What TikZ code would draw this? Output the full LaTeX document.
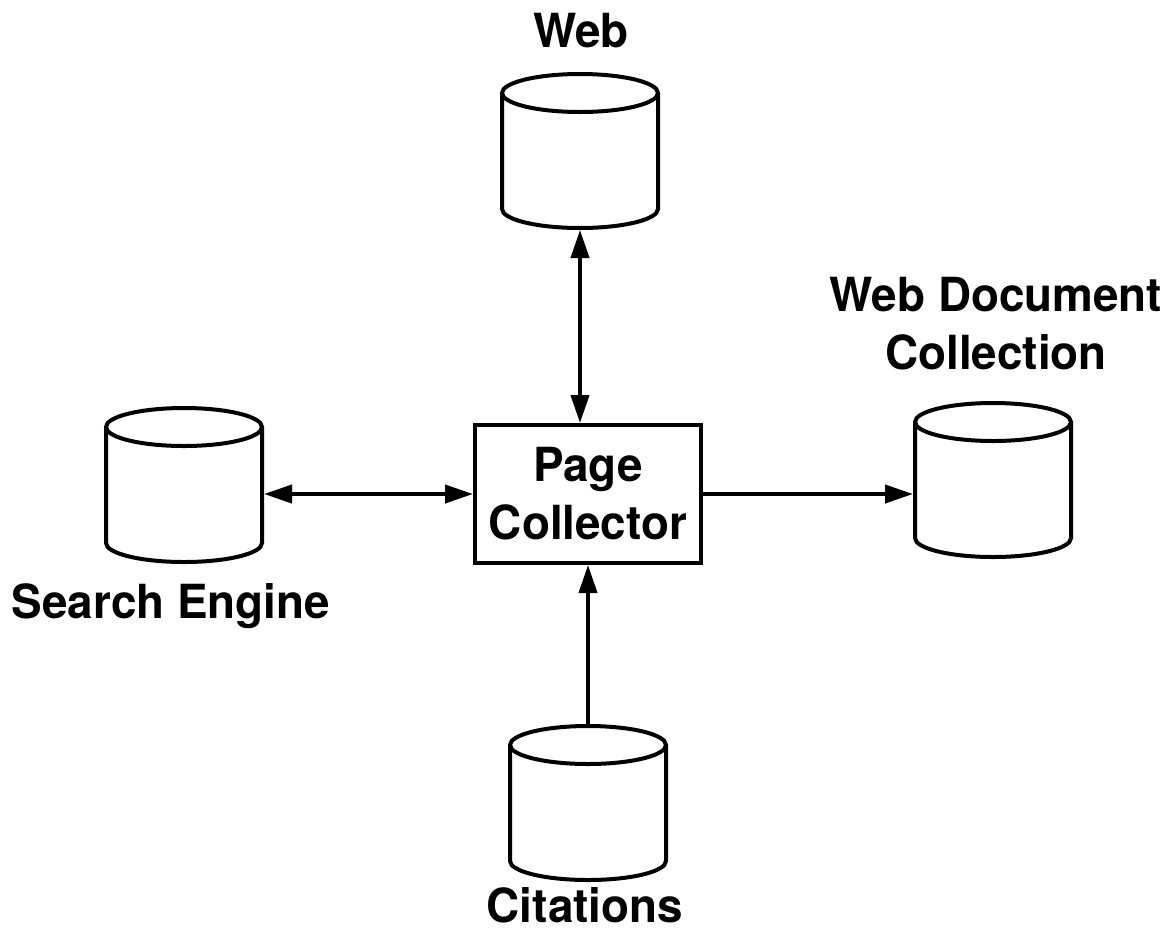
\documentclass[tikz,border=0pt]{standalone}
\usepackage{fontspec}
\setmainfont{TeX Gyre Heros}[FakeStretch=0.975]
\usetikzlibrary{arrows.meta}
\newcommand\lblfont{\fontsize{47pt}{58pt}\selectfont\bfseries}
\newcommand\drawcylinder[1]{%
  \draw[cylline] ([xshift=2pt,yshift=-21pt]#1.north west) -- ([xshift=2pt,yshift=21pt]#1.south west)
     arc[start angle=180,end angle=360,x radius=78pt,y radius=19pt]
     -- ([xshift=-2pt,yshift=-21pt]#1.north east);
  \draw[cylline] ([yshift=-21pt]#1.north) ellipse[x radius=78pt, y radius=19pt];}
\tikzset{
  cylline/.style={line width=4pt},
  cylbox/.style={rectangle, minimum width=160pt, minimum height=158pt, inner sep=0pt, outer sep=0pt},
  procbox/.style={draw, line width=4pt, rectangle, minimum width=226pt, minimum height=138pt, align=center, inner sep=0pt, font=\lblfont},
  lbl/.style={font=\lblfont, inner sep=0pt, align=center},
  conn/.style={line width=4pt, -{Triangle[length=28pt,width=18pt]}},
  biconn/.style={line width=4pt, {Triangle[length=28pt,width=18pt]}-{Triangle[length=28pt,width=18pt]}},
}
\begin{document}
\begin{tikzpicture}[x=1pt,y=-1pt]
\useasboundingbox (0,0) rectangle (1172,935);
\node[cylbox] (web) at (580,151) {};
\node[cylbox] (search) at (184,485) {};
\node[cylbox] (wdc) at (993,480) {};
\node[cylbox] (cit) at (588,803) {};
\drawcylinder{web}
\drawcylinder{search}
\drawcylinder{wdc}
\drawcylinder{cit}
\node[procbox] (pc) at (588,494) {Page\\Collector};
\node[lbl, anchor=base] (lweb) at (581,47) {Web};
\node[lbl, anchor=base] (lsearch) at (171,618) {Search Engine};
\node[lbl] (lwdc) at (996,324) {Web Document\\Collection};
\node[lbl, anchor=base] (lcit) at (585,922) {Citations};
\draw[biconn] (web.south) -- (web.south |- pc.north);
\draw[biconn] (search.east |- pc.west) -- (pc.west);
\draw[conn] (pc.east) -- (wdc.west |- pc.east);
\draw[conn] (cit.north) -- (cit.north |- pc.south);
\end{tikzpicture}
\end{document}
